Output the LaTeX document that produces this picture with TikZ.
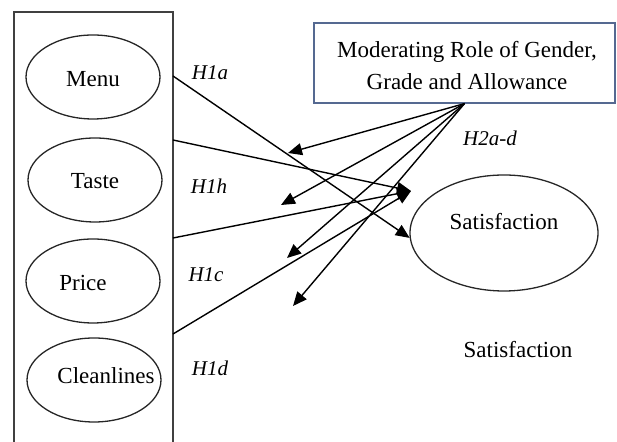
\documentclass[tikz,border=0pt]{standalone}
\usepackage{fontspec}
\setmainfont{Liberation Serif}
\usetikzlibrary{shapes.geometric,arrows.meta}

\definecolor{boxblue}{RGB}{85,105,145}

\tikzset{
	oval/.style={draw=black!85, ellipse, line width=0.65pt, inner sep=0pt, minimum width=67pt, minimum height=42pt},
	txt/.style={inner sep=0pt, font=\fontsize{11.5}{16}\selectfont},
	hyp/.style={inner sep=0pt, font=\fontsize{10.5}{12}\selectfont\itshape},
	link/.style={line width=0.7pt, -{Triangle[length=7pt,width=6pt]}}
}

\begin{document}
\begin{tikzpicture}[x=0.5pt,y=-0.5pt]

		\clip (0,0) rectangle (617,442);

		\draw [black!75, line width=0.8pt] (14,12) rectangle (173,470);

		\node [oval] (menu) at (93,77) {};
		\node [oval] (taste) at (95,180) {};
		\node [oval] (price) at (93,281) {};
		\node [oval] (clean) at (94,380) {};

		\node [txt] (menut) at ([yshift=-1pt]menu.center) {Menu};
		\node [txt] (tastet) at ([yshift=-0.5pt]taste.center) {Taste};
		\node [txt] (pricet) at ([xshift=-5pt, yshift=-1pt]price.center) {Price};
		\node [txt] (cleant) at ([xshift=6pt, yshift=2pt]clean.center) {Cleanlines};

		\node [oval, minimum width=94pt, minimum height=58pt] (sat) at (504,233) {};
		\node [txt] (satt) at ([yshift=5.5pt]sat.center) {Satisfaction};
		\node [txt] (sat2) at (518,350) {Satisfaction};

		\node [draw=boxblue, line width=0.6pt, minimum width=150.5pt, minimum height=40pt, inner sep=0pt] (mod) at (464.5,63) {};
		\node [txt, align=center] (modt) at (467,66) {Moderating Role of Gender,\\Grade and Allowance};

		\node [hyp] (h1a) at (210,73) {H1a};
		\node [hyp] (h1b) at (209,186) {H1h};
		\node [hyp] (h1c) at (206,275) {H1c};
		\node [hyp] (h1d) at (210,368) {H1d};
		\node [hyp] (h2) at (490,138) {H2a-d};

		\coordinate (m1) at (173,76);
		\coordinate (t1) at (173,140);
		\coordinate (p1) at (173,238);
		\coordinate (c1) at (173,334);
		\coordinate (hub) at (411,191);

		\coordinate (ea) at (288,153);
		\coordinate (eb) at (281,205);
		\coordinate (ec) at (287,258);
		\coordinate (ed) at (293,306);

		\draw [link] (m1) -- (sat.183);
		\draw [link] (t1) -- (hub);
		\draw [link] (p1) -- (hub);
		\draw [link] (c1) -- (hub);

		\draw [link] (mod.south) -- (ea);
		\draw [link] (mod.south) -- (eb);
		\draw [link] (mod.south) -- (ec);
		\draw [link] (mod.south) -- (ed);
	\end{tikzpicture}
\end{document}
